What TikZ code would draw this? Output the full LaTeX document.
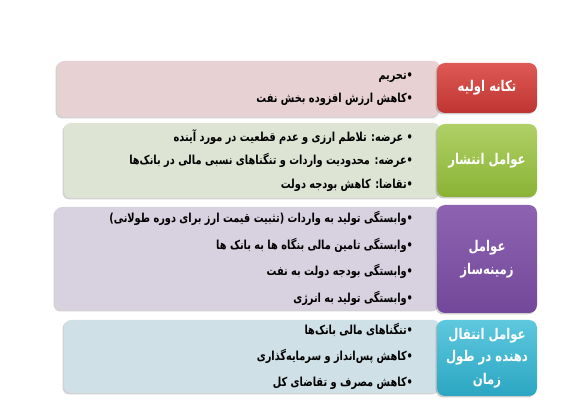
\documentclass[tikz,border=0pt]{standalone}
\usepackage{fontspec}
\newfontfamily\farsi[Script=Arabic,FakeStretch=0.79]{DejaVu Sans}
\TeXXeTstate=1
\usetikzlibrary{shadows}

\newcommand{\rtext}[1]{\beginR #1\endR}

\definecolor{pinkbg}{HTML}{E8D1D2}
\definecolor{greenbg}{HTML}{DDE4D3}
\definecolor{purplebg}{HTML}{D8D1E0}
\definecolor{bluebg}{HTML}{CFE0E6}
\definecolor{redtop}{HTML}{DE5A55}
\definecolor{redbot}{HTML}{BF3431}
\definecolor{greentop}{HTML}{B0D066}
\definecolor{greenbot}{HTML}{8AB335}
\definecolor{purpletop}{HTML}{8D63B1}
\definecolor{purplebot}{HTML}{73489A}
\definecolor{bluetop}{HTML}{5EC8DE}
\definecolor{bluebot}{HTML}{2BA6C2}

\tikzset{
    panel/.style={rounded corners=7pt, minimum width=#1, inner sep=0pt,
        drop shadow={shadow xshift=-1.5pt, shadow yshift=-1.5pt, opacity=.35}},
    tag/.style={rounded corners=8pt, minimum width=100pt, inner sep=0pt, text=white, align=center,
        font=\farsi\bfseries\fontsize{14.8}{22.5}\selectfont,
        drop shadow={shadow xshift=-1.5pt, shadow yshift=-1.5pt, opacity=.4}},
    items/.style={anchor=east, align=right, inner sep=0pt, font=\farsi\bfseries\fontsize{12.4}{#1}\selectfont}
}

\begin{document}
\begin{tikzpicture}[x=1pt,y=-1pt]
    \useasboundingbox[fill=white] (0,0) rectangle (566,414);

    \node[panel=383pt, fill=pinkbg, minimum height=56pt] (p1) at (248.5,89) {};
    \node[panel=376pt, fill=greenbg, minimum height=75pt] (p2) at (252,160.5) {};
    \node[panel=385pt, fill=purplebg, minimum height=103pt] (p3) at (247.5,258.5) {};
    \node[panel=376pt, fill=bluebg, minimum height=73pt] (p4) at (252,356.5) {};

    \node[tag, minimum height=50pt, top color=redtop, bottom color=redbot] (t1) at (487,88)
        {\rtext{تکانه اولیه}};
    \node[tag, minimum height=73pt, top color=greentop, bottom color=greenbot] (t2) at (487,160.5)
        {\rtext{عوامل انتشار}};
    \node[tag, minimum height=108pt, top color=purpletop, bottom color=purplebot] (t3) at (487,259)
        {\rtext{عوامل}\\\rtext{زمینه^^^^200cساز}};
    \node[tag, minimum height=76pt, top color=bluetop, bottom color=bluebot] (t4) at (487,358)
        {\rtext{عوامل انتقال}\\\rtext{دهنده در طول}\\\rtext{زمان}};

    \node[items=23] (l1) at ([xshift=-27pt]p1.east)
        {\rtext{•تحریم}\\
         \rtext{•کاهش ارزش افزوده بخش نفت}};
    \node[items=23.5] (l2) at ([xshift=-27pt]p2.east)
        {\rtext{• عرضه: تلاطم ارزی و عدم قطعیت در مورد آینده}\\
         \rtext{•عرضه: محدودیت واردات و تنگناهای نسبی مالی در بانک^^^^200cها}\\
         \rtext{•تقاضا: کاهش بودجه دولت}};
    \node[items=26.5] (l3) at ([xshift=-27pt]p3.east)
        {\rtext{•وابستگی تولید به واردات (تثبیت قیمت ارز برای دوره طولانی)}\\
         \rtext{•وابستگی تامین مالی بنگاه ها به بانک ها}\\
         \rtext{•وابستگی بودجه دولت به نفت}\\
         \rtext{•وابستگی تولید به انرژی}};
    \node[items=26] (l4) at ([xshift=-27pt]p4.east)
        {\rtext{•تنگناهای مالی بانک^^^^200cها}\\
         \rtext{•کاهش پس^^^^200cانداز و سرمایه^^^^200cگذاری}\\
         \rtext{•کاهش مصرف و تقاضای کل}};
\end{tikzpicture}
\end{document}
